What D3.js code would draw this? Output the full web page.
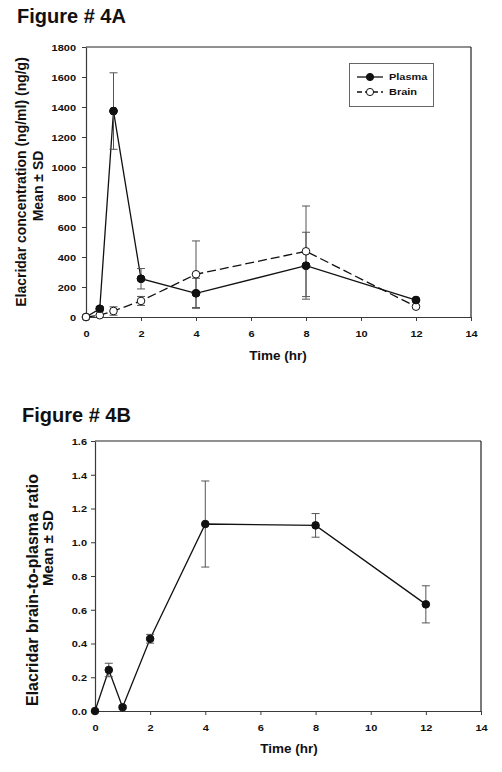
<!DOCTYPE html>
<html>
<head>
<meta charset="utf-8">
<script src="https://cdn.jsdelivr.net/npm/d3@7"></script>
<style>
  body { margin: 0; background: #fff; }
  svg { display: block; font-family: Arial, "Liberation Sans", sans-serif; }
</style>
</head>
<body>
<svg id="chart" width="502" height="772"></svg>
<script>
// ---------- data ----------
const time = [0, 0.5, 1, 2, 4, 8, 12];
const plasmaMean = [0, 55, 1373, 255, 158, 342, 113];
const plasmaSD   = [0, 15, 255, 68, 100, 223, 8];
const brainMean  = [0, 12, 40, 107, 285, 438, 69];
const brainSD    = [0, 5, 28, 30, 222, 302, 10];
const ratioMean  = [0, 0.243, 0.022, 0.428, 1.108, 1.100, 0.632];
const ratioSD    = [0, 0.04, 0.01, 0.026, 0.255, 0.07, 0.11];
const xTicks = [0, 2, 4, 6, 8, 10, 12, 14];
const yTicksA = [0, 200, 400, 600, 800, 1000, 1200, 1400, 1600, 1800];
const yTicksB = [0, 0.2, 0.4, 0.6, 0.8, 1.0, 1.2, 1.4, 1.6];
const seriesNames = ["Plasma", "Brain"];

const svg = d3.select("#chart");
svg.append("rect").attr("width", 502).attr("height", 772).attr("fill", "#fff");

const SQ = 0.82; // vertical squash of small labels
const axisColor = "#3a3a3a";
const errColor = "#555";

function styleAxis(g) {
  g.select(".domain").attr("stroke", axisColor).attr("stroke-width", 1.2);
  g.selectAll(".tick line").attr("stroke", axisColor).attr("stroke-width", 1);
  g.selectAll(".tick text").attr("font-size", 11).attr("font-weight", "bold").attr("fill", "#111");
}

function panel(opts) {
  const { left, right, top, bottom, yMax, yTicks, yFmt } = opts;
  const x = d3.scaleLinear().domain([0, 14]).range([left, right]);
  const y = d3.scaleLinear().domain([0, yMax]).range([bottom, top]);
  const g = svg.append("g");

  g.append("line").attr("x1", left).attr("x2", right).attr("y1", top).attr("y2", top)
    .attr("stroke", "#222").attr("stroke-width", 1.2);
  g.append("line").attr("x1", right).attr("x2", right).attr("y1", top).attr("y2", bottom)
    .attr("stroke", "#222").attr("stroke-width", 1.2);

  const gx = g.append("g").attr("transform", `translate(0,${bottom})`)
    .call(d3.axisBottom(x).tickValues(xTicks).tickSize(4).tickSizeOuter(0).tickFormat(d3.format("d")));
  styleAxis(gx);
  gx.selectAll(".tick text").attr("y", 20 / SQ).attr("dy", 0).attr("transform", `scale(1,${SQ})`);

  const gy = g.append("g").attr("transform", `translate(${left},0)`)
    .call(d3.axisLeft(y).tickValues(yTicks).tickSize(4).tickSizeOuter(0).tickPadding(opts.yPad).tickFormat(yFmt));
  styleAxis(gy);
  gy.selectAll(".tick text").attr("dy", "0.36em").attr("transform", `scale(1,${SQ})`);

  return { x, y, g };
}

function drawSeries(p, mean, sd, opts) {
  const { x, y, g } = p;
  const pts = time.map((t, i) => ({ t, m: mean[i], s: sd[i] }));
  const line = d3.line().x(d => x(d.t)).y(d => y(d.m));
  g.append("path").datum(pts).attr("d", line).attr("fill", "none")
    .attr("stroke", "#111").attr("stroke-width", 1.3)
    .attr("stroke-dasharray", opts.dash || null);
  const eb = g.append("g").attr("stroke", errColor).attr("stroke-width", 1);
  pts.filter(d => d.s > 0).forEach(d => {
    const cx = x(d.t);
    eb.append("line").attr("x1", cx).attr("x2", cx).attr("y1", y(d.m - d.s)).attr("y2", y(d.m + d.s));
    eb.append("line").attr("x1", cx - 4).attr("x2", cx + 4).attr("y1", y(d.m + d.s)).attr("y2", y(d.m + d.s));
    eb.append("line").attr("x1", cx - 4).attr("x2", cx + 4).attr("y1", y(d.m - d.s)).attr("y2", y(d.m - d.s));
  });
  g.append("g").selectAll("circle").data(pts).join("circle")
    .attr("cx", d => x(d.t)).attr("cy", d => y(d.m)).attr("r", 3.8)
    .attr("fill", opts.fill).attr("stroke", "#111").attr("stroke-width", 1);
}

function yLabel(lines) {
  lines.forEach(l => {
    svg.append("text").attr("transform", `translate(${l.x},${l.cy}) rotate(-90)`)
      .attr("text-anchor", "middle").attr("font-size", l.size).attr("font-weight", "bold")
      .attr("fill", "#111").text(l.text);
  });
}

// ---------- Figure 4A ----------
svg.append("text").attr("x", 17).attr("y", 23).attr("font-size", 20).attr("font-weight", "bold")
  .attr("fill", "#111").text("Figure # 4A");

const pA = panel({ left: 86, right: 471, top: 47, bottom: 317, yMax: 1800, yTicks: yTicksA,
  yFmt: d3.format("d"), yPad: 6 });
drawSeries(pA, plasmaMean, plasmaSD, { fill: "#111" });
drawSeries(pA, brainMean, brainSD, { fill: "#fff", dash: "9,4" });
pA.g.append("g").selectAll("circle").data(time.map((t, i) => ({ t, m: plasmaMean[i] })).filter(d => d.t > 0))
  .join("circle").attr("cx", d => pA.x(d.t)).attr("cy", d => pA.y(d.m)).attr("r", 3.8)
  .attr("fill", "#111").attr("stroke", "#111");

yLabel([
  { x: 25.5, cy: 182, size: 14, text: "Elacridar concentration (ng/ml) (ng/g)" },
  { x: 43, cy: 186, size: 14, text: "Mean \u00b1 SD" }
]);
svg.append("text").attr("x", 278).attr("y", 360).attr("text-anchor", "middle")
  .attr("font-size", 13.5).attr("font-weight", "bold").attr("fill", "#111").text("Time (hr)");

// legend
const leg = svg.append("g");
leg.append("rect").attr("x", 349.5).attr("y", 63.5).attr("width", 84).attr("height", 43)
  .attr("fill", "#fff").attr("stroke", "#666").attr("stroke-width", 1);
[{ name: seriesNames[0], y: 77, fill: "#111", dash: null },
 { name: seriesNames[1], y: 92, fill: "#fff", dash: "5,3" }].forEach(s => {
  leg.append("line").attr("x1", 357).attr("x2", 383).attr("y1", s.y).attr("y2", s.y)
    .attr("stroke", "#111").attr("stroke-width", 1.3).attr("stroke-dasharray", s.dash);
  leg.append("circle").attr("cx", 370).attr("cy", s.y).attr("r", 3.6)
    .attr("fill", s.fill).attr("stroke", "#111");
  leg.append("text").attr("transform", `translate(389,${s.y}) scale(1,0.85)`)
    .attr("dy", "0.36em").attr("font-size", 11).attr("font-weight", "bold").attr("fill", "#111").text(s.name);
});

// ---------- Figure 4B ----------
svg.append("text").attr("x", 22).attr("y", 422).attr("font-size", 20).attr("font-weight", "bold")
  .attr("fill", "#111").text("Figure # 4B");

const pB = panel({ left: 95, right: 481, top: 441, bottom: 711, yMax: 1.6, yTicks: yTicksB,
  yFmt: d3.format(".1f"), yPad: 4 });
drawSeries(pB, ratioMean, ratioSD, { fill: "#111" });

yLabel([
  { x: 38, cy: 590, size: 16, text: "Elacridar brain-to-plasma ratio" },
  { x: 53, cy: 548, size: 15, text: "Mean \u00b1 SD" }
]);
svg.append("text").attr("x", 289).attr("y", 753).attr("text-anchor", "middle")
  .attr("font-size", 13.5).attr("font-weight", "bold").attr("fill", "#111").text("Time (hr)");
</script>
</body>
</html>
